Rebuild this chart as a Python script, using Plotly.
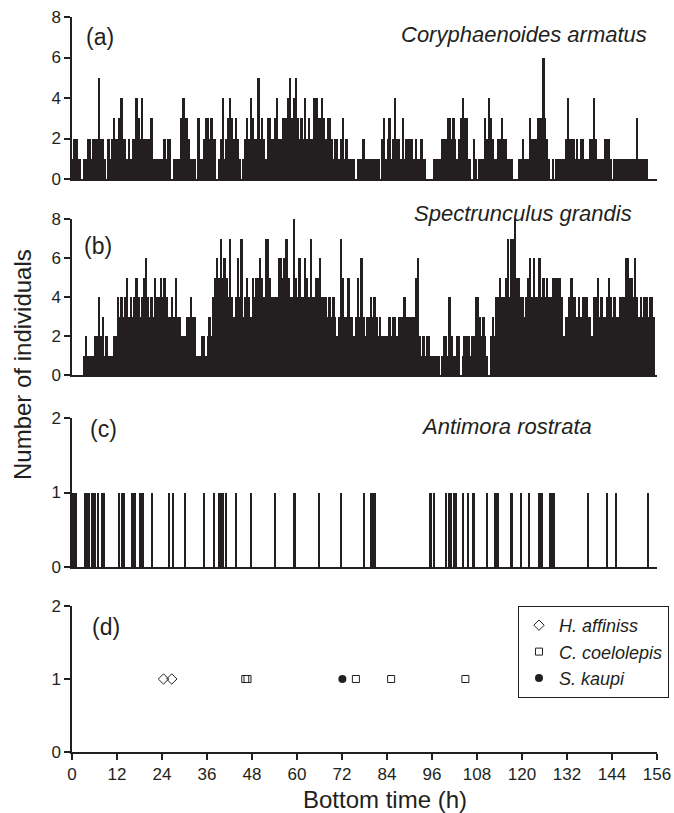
import plotly.graph_objects as go

# ---------------- data ----------------
bin_hours = 0.5  # sampling interval of the counts (h)

# (a) Coryphaenoides armatus, counts per 0.5 h bin from 0 h
armatus = [
    1,2,2,1,1,0,1,1,2,2, 1,2,2,2,5,2,2,1,0,2, 1,2,3,2,2,3,4,2,2,1,
    2,1,2,2,4,3,2,4,2,2, 2,2,3,1,1,1,1,1,1,2, 1,2,2,0,1,1,1,1,3,4,
    3,3,2,1,1,1,0,3,1,1, 2,3,3,2,3,2,2,0,1,2, 4,1,2,3,4,3,2,3,2,1,
    0,1,2,3,2,4,3,2,2,5, 2,3,2,1,3,3,2,2,3,4, 2,2,3,3,3,4,5,3,4,5,
    3,2,3,2,4,2,3,2,2,4, 4,3,3,4,3,2,3,3,2,1, 2,2,1,2,3,1,2,1,1,1,
    1,0,1,1,1,2,1,1, 1,1,1,1,1,1,0,2,3,1, 2,3,1,2,4,2,2,1,3,1,
    2,2,2,2,1,2,1,1,2,1, 1,0,0,0,0,1,1,1,1,2, 2,2,3,3,2,3,2,1,2,3,
    4,3,3,1,1,0,2,1,0,1, 1,1,3,2,4,3,2,1,1,2, 2,3,2,2,1,1,1,0,0,0,
    1,1,2,1,1,1,3,2,2,2, 3,3,3,6,3,2,1,0,1,0, 1,1,1,1,1,2,4,2,2,2,
    1,2,1,2,2,1,1,1,2,2, 4,2,1,1,1,1,2,2,2,1, 0,1,1,1,1,1,1,1,1,1,
    1,1,1,3,1,1,1,1,1,
]

# (b) Spectrunculus grandis, counts per 0.5 h bin from 0 h
grandis = [
    0,0,0,0,0,0,1,2,1,1, 1,1,2,2,4,2,3,1,2,1, 1,1,2,2,4,3,4,3,4,5,
    3,4,3,4,5,4,3,4,5,6, 4,3,4,3,5,4,4,5,4,5, 4,3,3,4,3,5,3,3,2,2,
    2,3,3,4,3,3,1,1,1,2, 2,1,2,3,2,4,5,6,5,7, 5,6,5,4,7,4,3,4,6,4,
    7,3,4,5,4,3,5,4,5,5, 6,5,4,7,7,5,4,4,4,4, 6,6,5,6,7,5,4,4,8,5,
    4,6,4,4,6,5,4,7,4,4, 5,5,6,4,4,4,3,4,3,4, 3,2,3,7,5,3,3,5,3,3,
    2,3,5,3,6,3,2,3, 3,4,3,4,3,2,3,2,2,2, 2,3,2,3,3,2,3,3,3,4,
    3,3,3,3,3,5,6,2,1,2, 1,2,2,1,1,1,1,1,0,1, 2,2,1,4,2,1,1,2,2,0,
    1,2,2,2,1,2,2,4,4,3, 2,3,2,1,0,2,3,2,4,4, 5,4,4,5,7,4,7,7,8,5,
    5,4,4,3,4,5,6,4,6,4, 4,6,4,5,4,5,4,4,5,5, 5,5,5,4,2,3,3,4,5,4,
    4,3,4,3,4,4,4,3,3,2, 4,4,5,3,4,3,3,4,5,4, 3,4,3,3,4,4,4,6,6,5,
    5,4,6,4,3,4,3,4,4,3, 4,4,3,
]

# (c) Antimora rostrata: start times (h) of 0.25 h frames with one fish
antimora_times = [
    0.25, 0.5, 0.75, 1.0, 3.25, 3.5, 3.75, 4.0, 4.5, 5.25, 5.5, 5.75, 6.0,
    6.75, 8.0, 8.25, 8.5, 12.5, 13.25, 13.5, 13.75, 16.0, 16.25, 16.5, 16.75,
    18.0, 18.25, 18.5, 18.75, 21.25, 25.75, 26.75, 30.0, 35.0, 37.75, 39.0,
    39.25, 39.5, 40.25, 41.0, 43.75, 47.5, 54.0, 59.0, 59.25, 65.75, 71.5,
    77.75, 79.5, 79.75, 80.0, 80.25, 80.5, 80.75, 95.25, 95.5, 96.5, 99.5,
    100.5, 100.75, 101.0, 101.75, 102.25, 104.25, 105.5, 106.75, 107.0,
    110.5, 112.75, 113.25, 113.5, 117.0, 117.25, 119.5, 121.75, 124.5,
    124.75, 125.25, 127.25, 127.75, 128.25, 128.5, 137.5, 142.5, 145.0, 153.5,
]
antimora_counts = [1] * len(antimora_times)
antimora_frame = 0.25

# (d) other species, sighting times (h) and counts
h_affinis_t = [24.4, 26.6]
h_affinis_n = [1, 1]
c_coelolepis_t = [46.2, 46.8, 75.7, 85.1, 104.9]
c_coelolepis_n = [1, 1, 1, 1, 1]
s_kaupi_t = [72.1]
s_kaupi_n = [1]

x_ticks = [0, 12, 24, 36, 48, 60, 72, 84, 96, 108, 120, 132, 144, 156]

# ---------------- figure ----------------
INK = "#231f20"
FONT = "Liberation Sans, Arial, Helvetica, sans-serif"

def centers(values):
    return [bin_hours * (i + 0.5) for i in range(len(values))]

fig = go.Figure()

fig.add_trace(go.Bar(x=centers(armatus), y=armatus, width=bin_hours,
                     marker=dict(color=INK, line=dict(width=0)),
                     xaxis="x", yaxis="y", showlegend=False))
fig.add_trace(go.Bar(x=centers(grandis), y=grandis, width=bin_hours,
                     marker=dict(color=INK, line=dict(width=0)),
                     xaxis="x2", yaxis="y2", showlegend=False))
fig.add_trace(go.Bar(x=[t + antimora_frame / 2 for t in antimora_times],
                     y=antimora_counts, width=antimora_frame * 1.15,
                     marker=dict(color=INK, line=dict(width=0)),
                     xaxis="x3", yaxis="y3", showlegend=False))

fig.add_trace(go.Scatter(x=h_affinis_t, y=h_affinis_n, mode="markers",
                         name="<i>H. affiniss</i>",
                         marker=dict(symbol="diamond-open", size=8, color=INK,
                                     line=dict(width=1, color=INK)),
                         xaxis="x4", yaxis="y4"))
fig.add_trace(go.Scatter(x=c_coelolepis_t, y=c_coelolepis_n, mode="markers",
                         name="<i>C. coelolepis</i>",
                         marker=dict(symbol="square-open", size=7, color=INK,
                                     line=dict(width=1, color=INK)),
                         xaxis="x4", yaxis="y4"))
fig.add_trace(go.Scatter(x=s_kaupi_t, y=s_kaupi_n, mode="markers",
                         name="<i>S. kaupi</i>",
                         marker=dict(symbol="circle", size=8, color=INK),
                         xaxis="x4", yaxis="y4"))

# page geometry (px)
W, H = 674, 813
ML, MR, MT, MB = 72, 17, 17, 61
PH = H - MT - MB
PW = W - ML - MR

def py(ypx):
    return (H - MB - ypx) / PH

def px(xpx):
    return (xpx - ML) / PW

line_kw = dict(showline=True, linecolor=INK, linewidth=1.5, showgrid=False,
               zeroline=False, mirror=False, automargin=False)
xkw = dict(range=[0, 156], **line_kw)
tickfont = dict(family=FONT, size=17, color=INK)
ykw = dict(ticks="outside", ticklen=6, tickwidth=1.5, tickcolor=INK,
           tickfont=tickfont, fixedrange=True, **line_kw)

fig.update_layout(
    template="none",
    width=W, height=H,
    margin=dict(l=ML, r=MR, t=MT, b=MB, autoexpand=False),
    paper_bgcolor="white", plot_bgcolor="white",
    bargap=0, barmode="overlay",
    font=dict(family=FONT, color=INK),
    xaxis=dict(domain=[0, 1], anchor="y", showticklabels=False, ticks="", **xkw),
    xaxis2=dict(domain=[0, 1], anchor="y2", showticklabels=False, ticks="", **xkw),
    xaxis3=dict(domain=[0, 1], anchor="y3", showticklabels=False, ticks="", **xkw),
    xaxis4=dict(domain=[0, 1], anchor="y4", tickvals=x_ticks, ticks="outside",
                ticklen=6, tickwidth=1.5, tickcolor=INK, tickfont=tickfont, **xkw),
    yaxis=dict(domain=[py(179), py(17)], anchor="x", range=[0, 8],
               tickvals=[0, 2, 4, 6, 8], **ykw),
    yaxis2=dict(domain=[py(375), py(219)], anchor="x2", range=[0, 8],
                tickvals=[0, 2, 4, 6, 8], **ykw),
    yaxis3=dict(domain=[py(567), py(418)], anchor="x3", range=[0, 2],
                tickvals=[0, 1, 2], **ykw),
    yaxis4=dict(domain=[py(752), py(606)], anchor="x4", range=[0, 2],
                tickvals=[0, 1, 2], **ykw),
    legend=dict(x=px(518), y=py(606), xanchor="left", yanchor="top",
                bgcolor="white", bordercolor=INK, borderwidth=1,
                font=dict(family=FONT, size=18, color=INK),
                tracegroupgap=3, itemwidth=30),
    showlegend=True,
)

def note(text, xpx, ypx, size, xanchor="left", italic=False):
    fig.add_annotation(text=f"<i>{text}</i>" if italic else text,
                       x=px(xpx), y=py(ypx), xref="paper", yref="paper",
                       xanchor=xanchor, yanchor="middle", showarrow=False,
                       font=dict(family=FONT, size=size, color=INK))

note("(a)", 84, 37, 23)
note("(b)", 82, 246, 23)
note("(c)", 88, 429, 23)
note("(d)", 90, 627, 23)
note("Coryphaenoides armatus", 649, 35, 22, xanchor="right", italic=True)
note("Spectrunculus grandis", 634, 213, 22, xanchor="right", italic=True)
note("Antimora rostrata", 594, 427, 22, xanchor="right", italic=True)
note("Bottom time (h)", 385, 799, 24, xanchor="center")

fig.add_annotation(text="Number of individuals", x=px(22), y=py(365),
                   xref="paper", yref="paper", xanchor="center", yanchor="middle",
                   textangle=-90, showarrow=False,
                   font=dict(family=FONT, size=24, color=INK))

fig.write_html("out.html",
               config={"displayModeBar": False},
               post_script="document.body.style.margin='0px';"
                           "document.body.style.padding='0px';")
